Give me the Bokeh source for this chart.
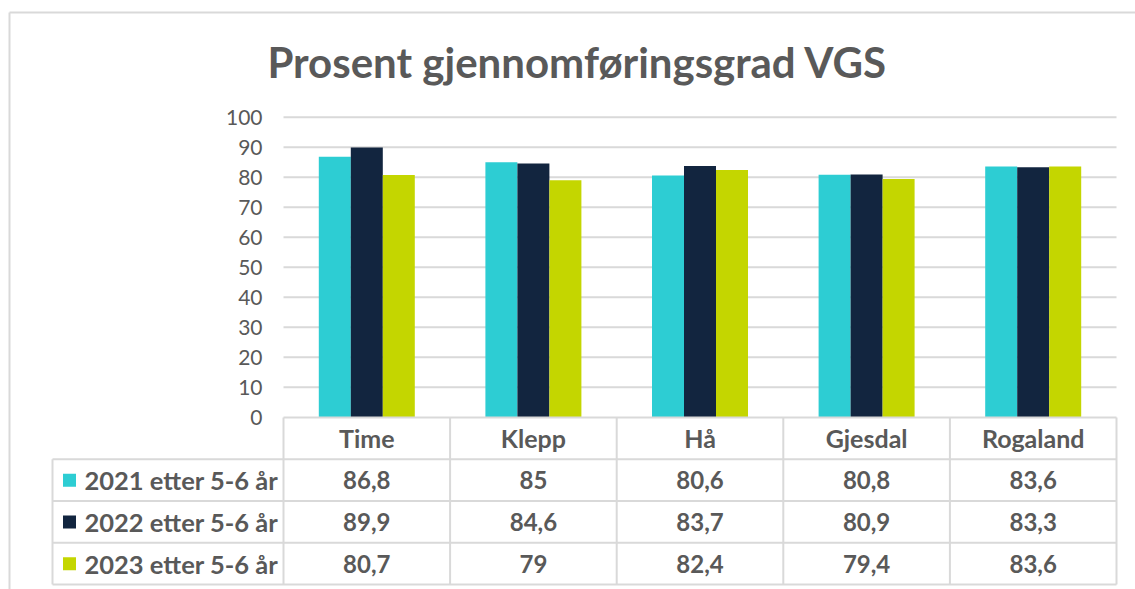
from bokeh.plotting import figure
from bokeh.models import Range1d, FixedTicker
from bokeh.core.properties import value
from bokeh.embed import file_html
from bokeh.resources import INLINE

# ---- data ----
categories = ["Time", "Klepp", "Hå", "Gjesdal", "Rogaland"]
series_names = ["2021 etter 5-6 år", "2022 etter 5-6 år", "2023 etter 5-6 år"]
v2021 = [86.8, 85.0, 80.6, 80.8, 83.6]
v2022 = [89.9, 84.6, 83.7, 80.9, 83.3]
v2023 = [80.7, 79.0, 82.4, 79.4, 83.6]
y_ticks = [0, 10, 20, 30, 40, 50, 60, 70, 80, 90, 100]
title_text = "Prosent gjennomføringsgrad VGS"

series = [v2021, v2022, v2023]
colors = ["#2DCDD3", "#12253F", "#C4D600"]
TXT = "#595959"
LINE = "#D9D9D9"
FONT = "Lato"

OFF = 0  # observed page offset
W, H = 1135, 589
px_per_x = 166.6
x0_px = 283 - OFF
px_per_y = 3.0
y0_px = 416.7 - OFF
xr = Range1d(-x0_px / px_per_x, (W - x0_px) / px_per_x)
yr = Range1d(-(H - y0_px) / px_per_y, y0_px / px_per_y)

row_px = 41.75
tbl_top_px = 417 - OFF

p = figure(width=W, height=H, x_range=xr, y_range=yr,
           output_backend="svg", toolbar_location=None,
           min_border=0, min_border_left=0, min_border_right=0,
           min_border_top=0, min_border_bottom=0,
           x_axis_location=None)
p.extra_y_ranges = {"tbl": Range1d((H - tbl_top_px) / row_px, -tbl_top_px / row_px)}
p.outline_line_color = None
p.xgrid.visible = False
p.ygrid.visible = False
p.background_fill_color = "white"
p.border_fill_color = "white"

ax = p.yaxis[0]
ax.fixed_location = 0
ax.ticker = FixedTicker(ticks=y_ticks)
ax.axis_line_color = None
ax.major_tick_line_color = None
ax.minor_tick_line_color = None
ax.major_tick_out = 0
ax.major_tick_in = 0
ax.major_label_standoff = 21
ax.major_label_text_font = FONT
ax.major_label_text_font_size = "21px"
ax.major_label_text_color = TXT

n = len(categories)
gt = [t for t in y_ticks if t > 0]
p.segment(x0=[0] * len(gt), x1=[n] * len(gt), y0=gt, y1=gt,
          line_color=LINE, line_width=2)

bw = 32 / px_per_x
for i, (vals, col) in enumerate(zip(series, colors)):
    xs = [c + 0.5 + (i - 1) * bw for c in range(n)]
    p.vbar(x=xs, top=vals, bottom=0, width=bw, fill_color=col, line_color=None)

p.text(x=[(577 - 283) / px_per_x], y=[(416.7 - 61) / px_per_y], text=[title_text],
       text_font=value(FONT), text_font_style="bold", text_font_size="42px",
       text_color=TXT, text_align="center", text_baseline="middle")

left_x = (52 - 283) / px_per_x
hx0, hx1, hy = [0], [n], [0]
for k in range(1, len(series) + 2):
    hx0.append(left_x); hx1.append(n); hy.append(k)
p.segment(x0=hx0, x1=hx1, y0=hy, y1=hy, y_range_name="tbl",
          line_color=LINE, line_width=2)
vx = list(range(n + 1)) + [left_x]
vy0 = [0] * (n + 1) + [1]
vy1 = [len(series) + 1] * (n + 2)
p.segment(x0=vx, x1=vx, y0=vy0, y1=vy1, y_range_name="tbl",
          line_color=LINE, line_width=2)

p.text(x=[c + 0.5 for c in range(n)], y=[0.5] * n, text=categories,
       y_range_name="tbl", text_font=value(FONT), text_font_style="bold",
       text_font_size="25px", text_color=TXT, text_align="center",
       text_baseline="middle")

def fmt(v):
    return f"{v:g}".replace(".", ",")

for r, (vals, col, name) in enumerate(zip(series, colors, series_names)):
    k = r + 1.5
    p.text(x=[c + 0.5 for c in range(n)], y=[k] * n, text=[fmt(v) for v in vals],
           y_range_name="tbl", text_font=value(FONT), text_font_style="bold",
           text_font_size="24px", text_color=TXT, text_align="center",
           text_baseline="middle")
    p.scatter(x=[(69 - 283) / px_per_x], y=[k], marker="square", size=13,
              fill_color=col, line_color=None, y_range_name="tbl")
    p.text(x=[(84 - 283) / px_per_x], y=[k], text=[name], y_range_name="tbl",
           text_font=value(FONT), text_font_style="bold", text_font_size="25.5px",
           text_color=TXT, text_align="left", text_baseline="middle")

bx = (9 - OFF) / px_per_x + xr.start
by = (416.7 - 12) / px_per_y
p.line(x=[bx, bx], y=[by, yr.start], line_color=LINE, line_width=2)
p.line(x=[bx, xr.end], y=[by, by], line_color=LINE, line_width=2)

open("out.html", "w").write(file_html(p, INLINE))
